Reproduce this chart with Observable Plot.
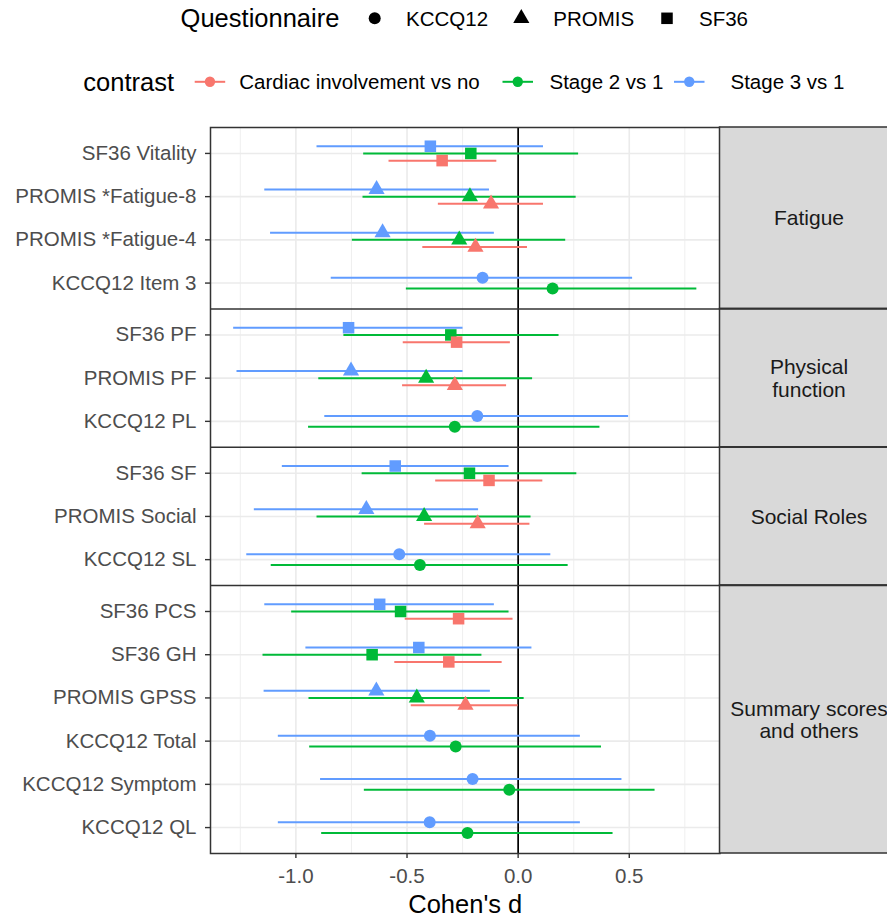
<!DOCTYPE html>
<html><head><meta charset="utf-8">
<script src="https://cdn.jsdelivr.net/npm/d3@7"></script>
<script src="https://cdn.jsdelivr.net/npm/@observablehq/plot@0.6"></script>
<style>
html,body{margin:0;padding:0;background:#fff;}
#chart{width:887px;height:921px;position:relative;overflow:hidden;}
</style></head>
<body><div id="chart"></div>
<script>
// ---------------- data ----------------
const facetNames = ["Fatigue", "Physical\nfunction", "Social Roles", "Summary scores\nand others"];
const rowLabels = ["SF36 Vitality", "PROMIS *Fatigue-8", "PROMIS *Fatigue-4", "KCCQ12 Item 3",
  "SF36 PF", "PROMIS PF", "KCCQ12 PL",
  "SF36 SF", "PROMIS Social", "KCCQ12 SL",
  "SF36 PCS", "SF36 GH", "PROMIS GPSS", "KCCQ12 Total", "KCCQ12 Symptom", "KCCQ12 QL"];
const rowFacet = [0,0,0,0, 1,1,1, 2,2,2, 3,3,3,3,3,3];
const rowQuestionnaire = ["SF36","PROMIS","PROMIS","KCCQ12", "SF36","PROMIS","KCCQ12",
  "SF36","PROMIS","KCCQ12", "SF36","SF36","PROMIS","KCCQ12","KCCQ12","KCCQ12"];
const questionnaires = ["KCCQ12", "PROMIS", "SF36"];
const contrasts = ["Cardiac involvement vs no", "Stage 2 vs 1", "Stage 3 vs 1"];

const cardiacEst = [-0.342, -0.122, -0.192, null, -0.277, -0.285, null, -0.131, -0.182, null, -0.268, -0.312, -0.237, null, null, null];
const cardiacLo  = [-0.581, -0.359, -0.429, null, -0.517, -0.520, null, -0.371, -0.421, null, -0.508, -0.555, -0.481, null, null, null];
const cardiacHi  = [-0.096,  0.114,  0.042, null, -0.035, -0.052, null,  0.111,  0.053, null, -0.023, -0.072,  0.000, null, null, null];

const stage2Est = [-0.213, -0.217, -0.265, 0.155, -0.303, -0.414, -0.285, -0.219, -0.423, -0.442, -0.529, -0.657, -0.456, -0.281, -0.040, -0.228];
const stage2Lo  = [-0.695, -0.698, -0.746, -0.503, -0.784, -0.897, -0.943, -0.702, -0.905, -1.111, -1.019, -1.148, -0.941, -0.938, -0.692, -0.884];
const stage2Hi  = [ 0.272,  0.261,  0.214,  0.804,  0.184,  0.065,  0.368,  0.264,  0.058,  0.225, -0.041, -0.163,  0.027,  0.375,  0.616,  0.427];

const stage3Est = [-0.395, -0.637, -0.610, -0.160, -0.763, -0.752, -0.184, -0.553, -0.683, -0.535, -0.623, -0.447, -0.638, -0.397, -0.205, -0.398];
const stage3Lo  = [-0.905, -1.140, -1.114, -0.841, -1.280, -1.265, -0.870, -1.061, -1.187, -1.221, -1.140, -0.955, -1.143, -1.079, -0.889, -1.079];
const stage3Hi  = [ 0.114, -0.129, -0.107,  0.515, -0.248, -0.248,  0.497, -0.041, -0.178,  0.147, -0.107,  0.062, -0.125,  0.280,  0.467,  0.280];

const xTickValues = [-1.0, -0.5, 0.0, 0.5];
const xMinorTickValues = [-1.25, -0.75, -0.25, 0.25, 0.75];

// ---------------- style / layout ----------------
const FONT = '"Liberation Sans", Arial, Helvetica, sans-serif';
const contrastColors = ["#F8766D", "#00BA38", "#619CFF"];
const symbolNames = ["circle", "triangle", "square"];
const symbolRadius = {KCCQ12: 6, PROMIS: 6, SF36: 6.5};
const W = 887, LEG_H = 110, H = 921 - LEG_H;
const ML = 210, MR = 167.5, MT = 17, MB = 68;
const STRIP_W = 177.5, STRIP_TEXT_DX = 89;
const EXPAND = 0.6, DODGE = 0.5;

// ---------------- derived ----------------
const est = [cardiacEst, stage2Est, stage3Est];
const lo = [cardiacLo, stage2Lo, stage3Lo];
const hi = [cardiacHi, stage2Hi, stage3Hi];

const facetSizes = facetNames.map((_, f) => rowFacet.filter(v => v === f).length);
const facetStart = [];
let acc = 0;
facetSizes.forEach(n => { facetStart.push(acc); acc += n - 1 + 2 * EXPAND; });
const yTotal = acc;
const facets = facetNames.map((name, f) => ({
  name, start: facetStart[f], end: facetStart[f] + facetSizes[f] - 1 + 2 * EXPAND,
  mid: facetStart[f] + (facetSizes[f] - 1 + 2 * EXPAND) / 2
}));
const boundaries = facets.slice(1).map(d => d.start);
const rowPos = rowLabels.map((_, r) => {
  const f = rowFacet[r];
  return facetStart[f] + EXPAND + (r - rowFacet.indexOf(f));
});
const labelByPos = new Map(rowPos.map((p, r) => [p, rowLabels[r]]));

const topToBottom = [2, 1, 0]; // Stage 3, Stage 2, Cardiac
const records = [];
rowLabels.forEach((label, r) => {
  const present = topToBottom.filter(c => est[c][r] != null);
  const k = present.length;
  present.forEach((c, j) => {
    const off = -DODGE / 2 + DODGE / (2 * k) + j * DODGE / k;
    records.push({label, questionnaire: rowQuestionnaire[r], contrast: contrasts[c],
      est: est[c][r], lo: lo[c][r], hi: hi[c][r], y: rowPos[r] + off});
  });
});
const [xmin, xmax] = d3.extent(records.flatMap(d => [d.lo, d.hi]));
const xpad = (xmax - xmin) * 0.05;
const panelW = W - ML - MR;

const dotMarks = questionnaires.map(qn =>
  Plot.dot(records.filter(d => d.questionnaire === qn),
    {x: "est", y: "y", fill: "contrast", symbol: "questionnaire", r: symbolRadius[qn], stroke: "none"}));

const plot = Plot.plot({
  width: W, height: H,
  marginLeft: ML, marginRight: MR, marginTop: MT, marginBottom: MB,
  style: {fontFamily: FONT, background: "white"},
  x: {domain: [xmin - xpad, xmax + xpad]},
  y: {domain: [0, yTotal], reverse: true},
  color: {domain: contrasts, range: contrastColors},
  symbol: {domain: questionnaires, range: symbolNames},
  marks: [
    Plot.gridX({ticks: xMinorTickValues, stroke: "#EBEBEB", strokeOpacity: 1, strokeWidth: 0.8}),
    Plot.gridX({ticks: xTickValues, stroke: "#EBEBEB", strokeOpacity: 1, strokeWidth: 1.6}),
    Plot.gridY({ticks: rowPos, stroke: "#EBEBEB", strokeOpacity: 1, strokeWidth: 1.6}),
    Plot.ruleX([0], {stroke: "black", strokeWidth: 1.7}),
    Plot.ruleY(records, {y: "y", x1: "lo", x2: "hi", stroke: "contrast", strokeWidth: 2}),
    ...dotMarks,
    Plot.frame({stroke: "#333333", strokeWidth: 1.5}),
    Plot.rect(facets, {y1: "start", y2: "end", fill: "#D9D9D9", stroke: "#333333", strokeWidth: 1.5,
      insetLeft: panelW, insetRight: -STRIP_W}),
    Plot.ruleY(boundaries, {stroke: "#333333", strokeWidth: 1.5, insetRight: -STRIP_W}),
    Plot.text(facets, {y: "mid", text: "name", frameAnchor: "right", dx: STRIP_TEXT_DX,
      textAnchor: "middle", lineAnchor: "middle", lineHeight: 1.07, fontSize: 21, fill: "#1A1A1A"}),
    Plot.axisX({ticks: xTickValues, tickFormat: d => d.toFixed(1), tickSize: 5, tickPadding: 10,
      fontSize: 20.5, stroke: "#333333", strokeWidth: 1.4, fill: "#4D4D4D", label: null}),
    Plot.axisY({ticks: rowPos, tickFormat: d => labelByPos.get(d), tickSize: 5, tickPadding: 9,
      fontSize: 20.5, stroke: "#333333", strokeWidth: 1.4, fill: "#4D4D4D", label: null}),
    Plot.text(["Cohen's d"], {frameAnchor: "bottom", dy: 51.8, lineAnchor: "middle", fontSize: 25.5, fill: "black"})
  ]
});

// ---------------- legends (built from the plot's scales) ----------------
const colorScale = plot.scale("color");
const symbolScale = plot.scale("symbol");
const legLayout = {
  q: {cy: 18.3, titleX: 180.6, symX: [374.7, 521.3, 667], labelX: [406, 553.3, 699]},
  c: {cy: 81.8, titleX: 83.3, keyX: [194.7, 502.5, 674], keyW: 30.5, labelX: [239.3, 549.5, 730.5]}
};
const leg = d3.create("svg").attr("width", W).attr("height", LEG_H)
  .style("display", "block").style("font-family", FONT);
// Questionnaire legend
const q = legLayout.q;
leg.append("text").attr("x", q.titleX).attr("y", q.cy).attr("dy", "0.36em")
  .attr("font-size", 25.5).attr("fill", "black").text("Questionnaire");
symbolScale.domain.forEach((name, i) => {
  const rr = symbolRadius[name];
  leg.append("path").attr("transform", `translate(${q.symX[i]},${q.cy})`)
    .attr("d", d3.symbol(symbolScale.range[i], Math.PI * rr * rr)()).attr("fill", "black");
  leg.append("text").attr("x", q.labelX[i]).attr("y", q.cy).attr("dy", "0.36em")
    .attr("font-size", 20.5).attr("fill", "black").text(name);
});
// contrast legend
const c = legLayout.c;
leg.append("text").attr("x", c.titleX).attr("y", c.cy).attr("dy", "0.36em")
  .attr("font-size", 25.5).attr("fill", "black").text("contrast");
colorScale.domain.forEach((name, i) => {
  const col = colorScale.range[i];
  leg.append("line").attr("x1", c.keyX[i]).attr("x2", c.keyX[i] + c.keyW)
    .attr("y1", c.cy).attr("y2", c.cy).attr("stroke", col).attr("stroke-width", 2);
  leg.append("circle").attr("cx", c.keyX[i] + c.keyW / 2).attr("cy", c.cy).attr("r", 5.2).attr("fill", col);
  leg.append("text").attr("x", c.labelX[i]).attr("y", c.cy).attr("dy", "0.36em")
    .attr("font-size", 20.5).attr("fill", "black").text(name);
});

const root = document.getElementById("chart");
root.appendChild(leg.node());
root.appendChild(plot);
</script>
</body></html>
